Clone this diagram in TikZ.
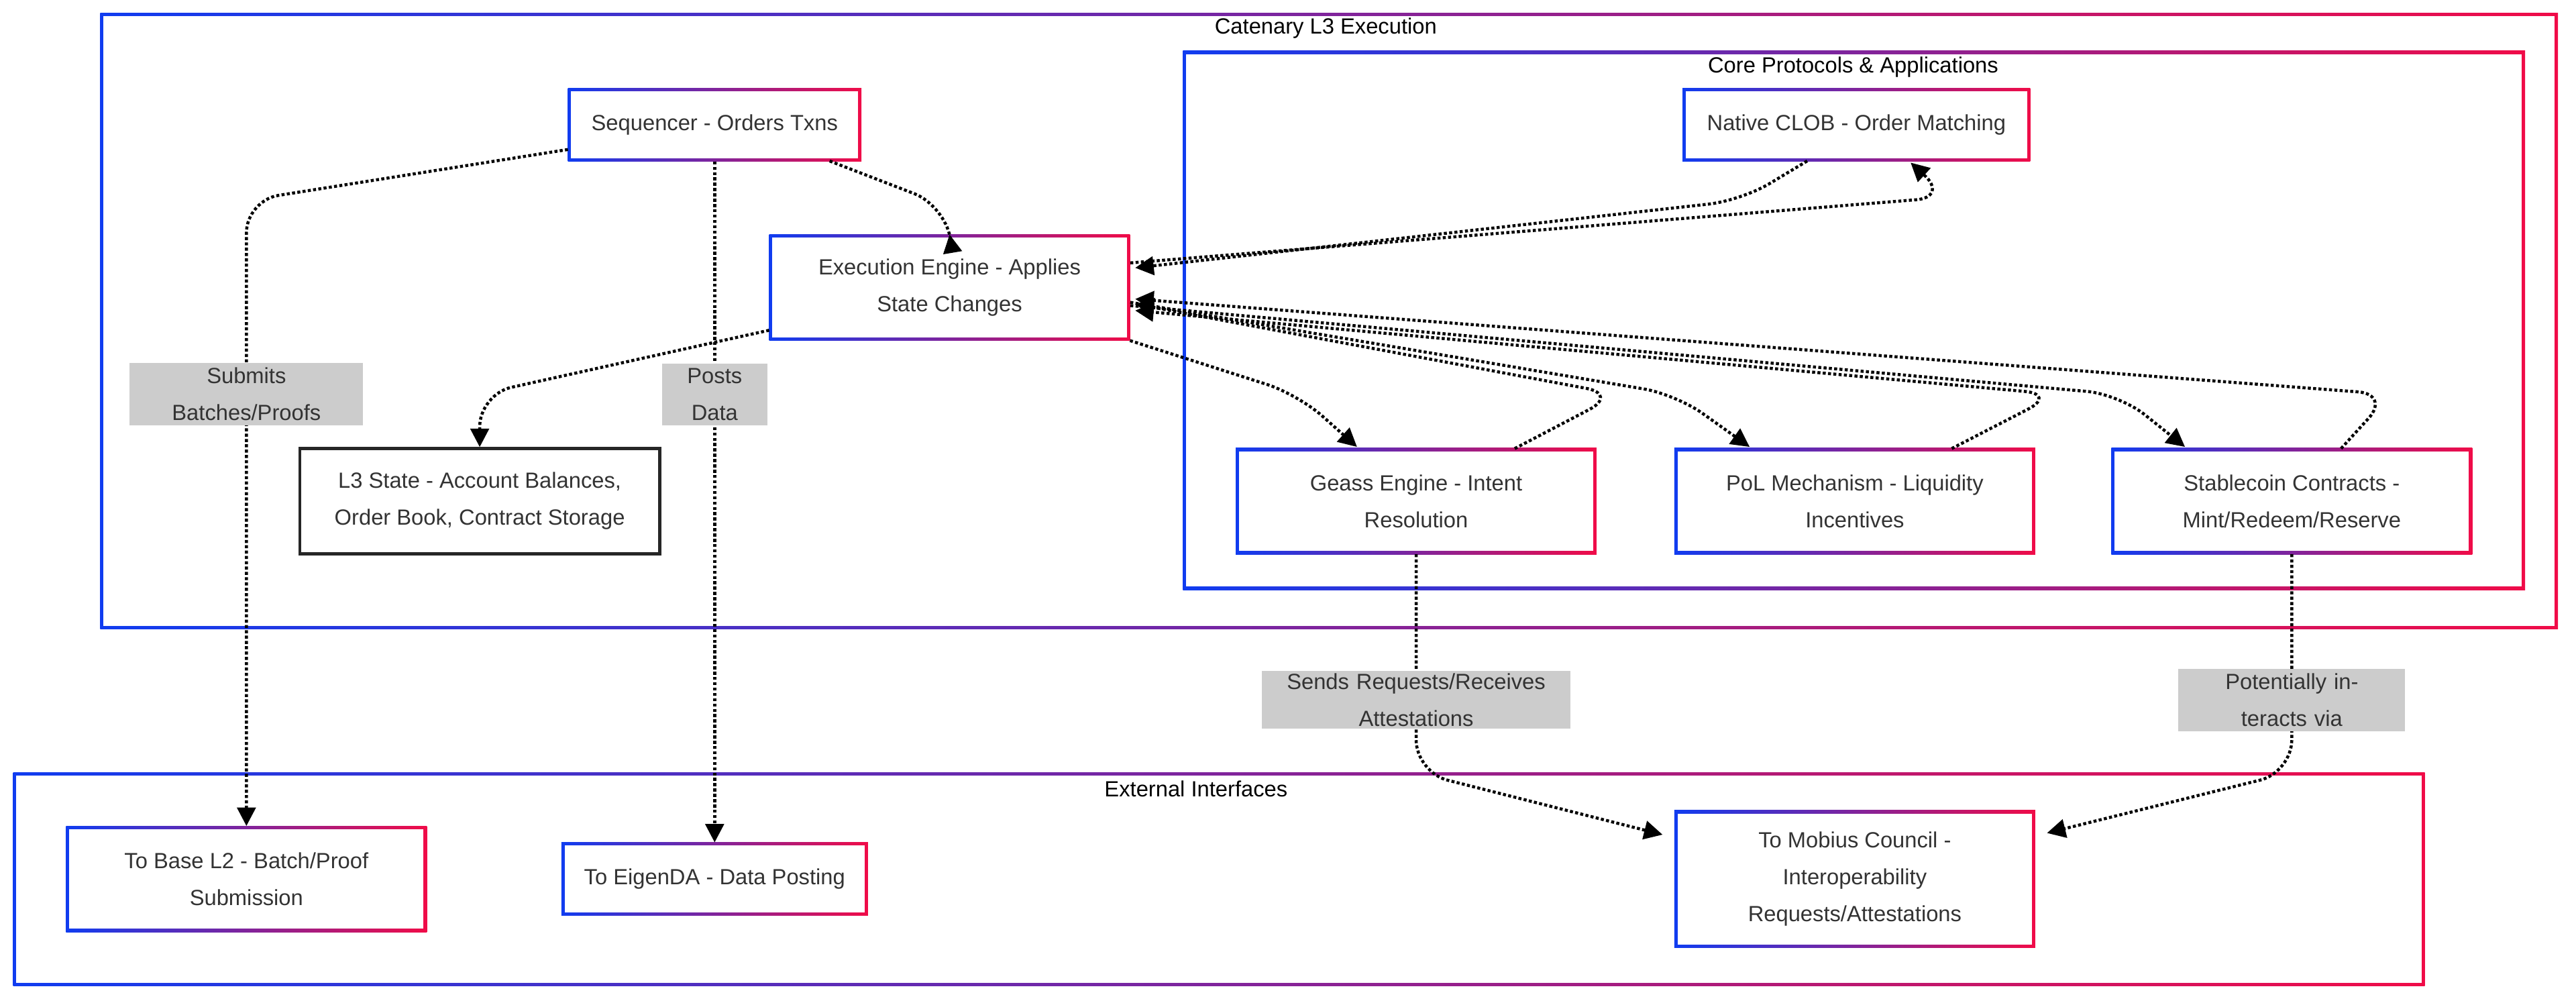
\documentclass[tikz,border=0pt]{standalone}
\usepackage{fontspec}
\setmainfont{Liberation Sans}
\usetikzlibrary{arrows.meta, backgrounds}
\definecolor{gblue}{RGB}{16,60,240}
\definecolor{gred}{RGB}{240,12,72}
\definecolor{txt}{RGB}{51,51,51}
\definecolor{lblgray}{RGB}{204,204,204}
\newcommand\gradframe[2]{%
  \shade[left color=gblue, right color=gred] (#1) rectangle (#2);
  \fill[white] ([shift={(1.4pt,1.4pt)}]#1) rectangle ([shift={(-1.4pt,-1.4pt)}]#2);}
\tikzset{
  box/.style = {rectangle, minimum width=5.475cm, minimum height=1.6cm, align=center, text=txt, font=\fontsize{9.5}{16}\selectfont},
  small/.style = {box, minimum height=1.1cm},
  lbl/.style = {fill=lblgray, text=txt, align=center, inner xsep=0pt, inner ysep=2pt, font=\fontsize{9.5}{16}\selectfont},
  title/.style = {font=\fontsize{9.5}{12}\selectfont},
  link/.style = {densely dotted, line width=1.3pt, rounded corners=14pt, -{Triangle[length=8pt,width=8pt]}}
}
\begin{document}
\begin{tikzpicture}[x=0.025cm, y=-0.025cm]
\useasboundingbox (0,0) rectangle (1568,609);

% nodes
\node [small, minimum width=4.45cm] at (435,76) (seq) {Sequencer - Orders Txns};
\node [small, minimum width=5.275cm] at (1130,76) (clob) {Native CLOB - Order Matching};
\node [box] at (578,175) (exec) {Execution Engine - Applies\\State Changes};
\node [box, draw=black!85, line width=1.3pt] at (292,305) (state) {L3 State - Account Balances,\\Order Book, Contract Storage};
\node [box] at (862,305) (geass) {Geass Engine - Intent\\Resolution};
\node [box] at (1129,305) (pol) {PoL Mechanism - Liquidity\\Incentives};
\node [box] at (1395,305) (stable) {Stablecoin Contracts -\\Mint/Redeem/Reserve};
\node [box] at (150,535) (base) {To Base L2 - Batch/Proof\\Submission};
\node [small, minimum width=4.65cm] at (435,535) (eigen) {To EigenDA - Data Posting};
\node [box, minimum height=2.075cm] at (1129,535) (mobius) {To Mobius Council -\\Interoperability\\Requests/Attestations};

\node [title] at (807,17) (ttl1) {Catenary L3 Execution};
\node [title] at (1128,41) (ttl2) {Core Protocols \& Applications};
\node [title] at (728,480) (ttl3) {External Interfaces};

% frames
\begin{scope}[on background layer]
  \gradframe{61,383}{1557,8}
  \gradframe{720,359}{1537,31}
  \gradframe{8,600}{1476,470}
  \foreach \n in {seq, clob, exec, geass, pol, stable, base, eigen, mobius}
    {\gradframe{\n.south west}{\n.north east}}
\end{scope}

% connectors
\draw [link] (seq.west |- 0,91) -- (150,122) -- (base.north);
\draw [link] (seq.south) -- (eigen.north);
\draw [link] (505,98) -- (575,125) -- (exec.north);
\draw [link] (exec.west |- 0,201) -- (292,240) -- (state.north);
\draw [link] (exec.south east) -- (790,240) -- (826,272);
\draw [link] (688,184) -- (1020,240) -- (1065,272);
\draw [link] (688,186) -- (1290,240) -- (1330,272);
\draw [link] (1100,98) -- (1060,122) -- (691,163);
\draw [link] (688,160) -- (1186,120) -- (1163,99);
\draw [link] (922,273) -- (985,240) -- (691,185);
\draw [link] (1188,273) -- (1252,240) -- (691,189);
\draw [link] (1425,273) -- (1455,240) -- (691,182);
\draw [link] (geass.south) -- (862,470) -- (1012,508);
\draw [link] (stable.south) -- (1395,470) -- (1246,507);

% labels
\node [lbl, text width=3.55cm] at (150,240) (sublbl) {Submits Batches/Proofs};
\node [lbl, text width=1.6cm] at (435,240) (postlbl) {Posts Data};
\node [lbl, text width=4.7cm, inner ysep=1pt] at (862,426) (reqlbl) {Sends Requests/Receives\\Attestations};
\node [lbl, text width=3.45cm] at (1395,426) (potlbl) {Potentially interacts via};
\end{tikzpicture}
\end{document}
